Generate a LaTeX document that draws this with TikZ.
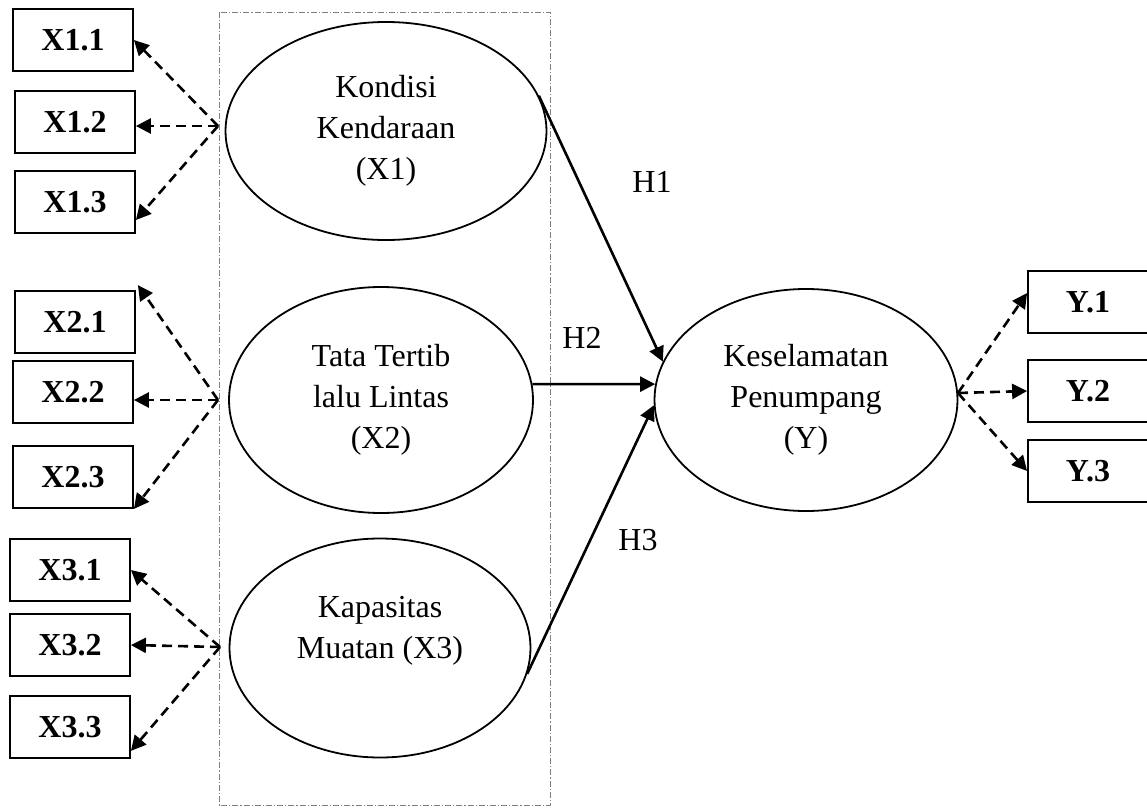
\documentclass[tikz,border=0pt]{standalone}
\usepackage{fontspec}
\setmainfont{Liberation Serif}
\usetikzlibrary{shapes.geometric,arrows.meta}

\begin{document}
\begin{tikzpicture}[x=0.5pt, y=-0.5pt, font=\fontsize{16}{20.5}\selectfont,
    indikator/.style={draw, line width=0.9pt, minimum width=60pt, minimum height=31pt, inner sep=0pt, font=\fontsize{16}{20.5}\selectfont\bfseries},
    laten/.style={draw, ellipse, line width=0.9pt, inner sep=0pt, align=center},
    muat/.style={dash pattern=on 5pt off 3pt, line width=1.3pt, -{Triangle[length=7.5pt,width=7.5pt]}},
    jalur/.style={line width=1.3pt, -{Triangle[length=7.5pt,width=7.5pt]}},
    kotak/.style={draw=gray, line width=0.5pt, dash pattern=on 3pt off 1pt on 0.6pt off 1pt}]
      \useasboundingbox (0,0) rectangle (1147,809); %%% page size of the reference
      %%% frame round the exogenous constructs
      \draw[kotak] (219,12) rectangle (550,805);
      %%% latent variables
      \node[laten, minimum width=160.5pt, minimum height=109pt] (kondisi) at (386,131) {Kondisi\\Kendaraan\\(X1)};
      \node[laten, minimum width=152pt, minimum height=113pt] (tata) at (381,400) {Tata Tertib\\lalu Lintas\\(X2)};
      \node[laten, minimum width=150.5pt, minimum height=109.5pt] (kapasitas) at (380,648) {Kapasitas\\Muatan (X3)\\\mbox{}};
      \node[laten, minimum width=151.5pt, minimum height=111pt] (kesel) at (806,400) {Keselamatan\\Penumpang\\(Y)};
      %%% indicators
      \foreach \n/\lab/\x/\y in {11/X1.1/73/40, 12/X1.2/75/122, 13/X1.3/75/202,
                                 21/X2.1/75/322, 22/X2.2/73/392, 23/X2.3/73/477,
                                 31/X3.1/70/570, 32/X3.2/70/645, 33/X3.3/70/727}{
        \node[indikator] (x\n) at (\x,\y) {\lab};
      }
      \foreach \n/\y in {1/302, 2/391, 3/471}{
        \node[indikator] (y\n) at (1088,\y) {Y.\n};
      }
      %%% fan points of the loadings
      \coordinate (f1) at (218,126);
      \coordinate (f2) at (218,400);
      \coordinate (f3) at (220,647);
      \coordinate (fy) at (958,393);
      %%% loadings
      \draw[muat] (f1) -- (x11.east);
      \draw[muat] (f1) -- ([yshift=-2pt]x12.east);
      \draw[muat] (f1) -- ([yshift=-9pt]x13.east);
      \draw[muat] (f2) -- ([xshift=1pt,yshift=2.5pt]x21.north east);
      \draw[muat] (f2) -- ([yshift=-4pt]x22.east);
      \draw[muat] (f2) -- (x23.south east);
      \draw[muat] (f3) -- (x31.east);
      \draw[muat] (f3) -- (x32.east);
      \draw[muat] (f3) -- ([yshift=4pt]x33.south east);
      \draw[muat] (fy) -- ([yshift=4.5pt]y1.west);
      \draw[muat] (fy) -- (y2.west);
      \draw[muat] (fy) -- (y3.west);
      %%% paths H1 - H3
      \draw[jalur] (kondisi.13) -- (kesel.165);
      \draw[jalur] (tata.6) -- (kesel.174);
      \draw[jalur] (kapasitas.-10) -- (kesel.182);
      \node (h1) at (652,182) {H1};
      \node (h2) at (582,338) {H2};
      \node (h3) at (638,540) {H3};
    \end{tikzpicture}
\end{document}
